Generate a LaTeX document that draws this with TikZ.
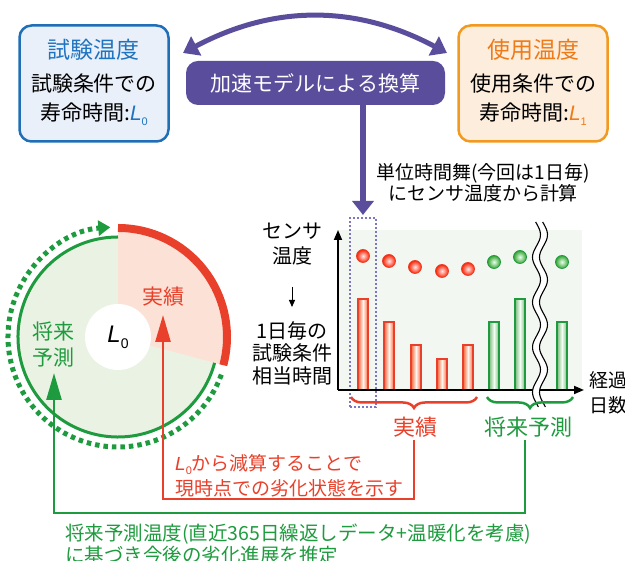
\documentclass[tikz,border=0pt]{standalone}
\usepackage{fontspec}
\setmainfont{Noto Sans CJK JP}
\newfontfamily\lat{Liberation Sans}
\usetikzlibrary{arrows.meta,decorations.pathreplacing}
\definecolor{cblue}{HTML}{1F6EB7}
\definecolor{cbluet}{HTML}{1E74C0}
\definecolor{cbluefill}{HTML}{EAF0FA}
\definecolor{corange}{HTML}{F29A20}
\definecolor{ctorange}{HTML}{EE7A18}
\definecolor{corangefill}{HTML}{FDEDDC}
\definecolor{cpurple}{HTML}{5A4E9C}
\definecolor{cred}{HTML}{E8402A}
\definecolor{cgreen}{HTML}{1E9B3E}
\definecolor{cpink}{HTML}{FCE2D6}
\definecolor{cgfill}{HTML}{EAF3E3}
\definecolor{cbg}{HTML}{F2F7F2}
\definecolor{cdot}{HTML}{7D76C2}
\newcommand{\Lsub}[2]{{\lat\textit{L}}\raisebox{-0.25em}{\fontsize{#2}{#2}\selectfont\lat #1}}
\begin{document}
\begin{tikzpicture}[x=1pt,y=1pt,
  tbox/.style={rectangle, rounded corners=12pt, line width=2.5pt, minimum width=149pt, minimum height=116pt, inner sep=0pt},
  ttl/.style={font=\fontsize{23}{23}\selectfont, inner sep=0pt},
  body/.style={font=\fontsize{21}{29}\selectfont, align=center, inner sep=0pt},
  pbox/.style={rectangle, rounded corners=12pt, fill=cpurple, text=white, minimum width=259pt, minimum height=44pt, inner sep=0pt, font=\fontsize{21}{21}\selectfont},
  parrow/.style={draw=cpurple, line width=5pt, {Triangle[length=15pt,width=21pt]}-{Triangle[length=15pt,width=21pt]}},
  varrow/.style={draw=cpurple, line width=6.5pt, -{Triangle[length=14pt,width=21pt]}},
  lbl/.style={font=\fontsize{19}{21}\selectfont, align=center, inner sep=0pt},
  axis/.style={line width=1.8pt, -{Triangle[length=10pt,width=8pt]}},
  rbar/.style={draw=cred, line width=1.2pt, left color=red!55!orange!80, right color=red!55!orange!80, middle color=orange!5},
  gbar/.style={draw=cgreen, line width=1.2pt, left color=green!45!black!50, right color=green!45!black!50, middle color=green!5},
  rball/.style={draw=cred, line width=0.8pt, inner color=red!8, outer color=red!75!orange},
  gball/.style={draw=cgreen, line width=0.8pt, inner color=green!8, outer color=green!55!black!80},
  brc/.style={decorate, decoration={brace, mirror, amplitude=11pt}, line width=2.5pt},
  conn/.style={line width=2.7pt, -{Triangle[length=27pt,width=15pt]}},
  big/.style={font=\fontsize{22}{22}\selectfont, inner sep=0pt}
]
\useasboundingbox (0,0) rectangle (625,561);

% ---- top boxes ----
\node[tbox, draw=cblue, fill=cbluefill] (test) at (94,477.5) {};
\node[ttl, text=cbluet] (testt) at (94,511) {試験温度};
\node[body] (testb) at (94,461.5) {試験条件での\\寿命時間:{\color{cbluet}\Lsub{0}{11}}};

\node[tbox, draw=corange, fill=corangefill] (use) at (533,477.5) {};
\node[ttl, text=ctorange] (uset) at (533,511) {使用温度};
\node[body] (useb) at (533,461.5) {使用条件での\\寿命時間:{\color{ctorange}\Lsub{1}{11}}};

\node[pbox] (acc) at (315.5,478) {加速モデルによる換算};
\coordinate (la) at (183,508);
\coordinate (ra) at (447,508);
\draw[parrow] (la) to[bend left=28] (ra);
\coordinate (vtip) at (363,346);
\draw[varrow] (acc.south -| vtip) -- (vtip);

\node[lbl] (unit) at (483,378.5) {単位時間舞(今回は1日毎)\\にセンサ温度から計算};

% ---- chart ----
\fill[cbg] (338,171) rectangle (582,331);
\draw[cdot, line width=1.3pt, dash pattern=on 2pt off 2pt] (350,154) rectangle (376,343);
\foreach \xc/\yt in {363/262, 389/239, 416/216, 442/202, 468/216}
  \draw[rbar] (\xc-5,171) rectangle (\xc+5,\yt);
\foreach \xc/\yt in {494/239, 520/262, 562/239}
  \draw[gbar] (\xc-5,171) rectangle (\xc+5,\yt);
\foreach \xc/\yc in {363/305, 389/300, 415/294, 442/290, 468/292}
  \draw[rball] (\xc,\yc) circle[radius=6.5];
\foreach \xc/\yc in {494/299, 520/304, 562/299}
  \draw[gball] (\xc,\yc) circle[radius=6.5];
\coordinate (O) at (338,171);
\coordinate (ytip) at (338,331);
\coordinate (xtip) at (584,171);
\draw[axis] (O) -- (ytip);
\draw[axis] (O) -- (xtip);
% break
\fill[white] plot[domain=154:339, samples=80, variable=\t] ({536.5+4*sin(8*\t)},{\t}) --
  plot[domain=339:154, samples=80, variable=\t] ({543.5+4*sin(8*\t)},{\t}) -- cycle;
\draw[line width=1.1pt] plot[domain=154:339, samples=80, variable=\t] ({536.5+4*sin(8*\t)},{\t});
\draw[line width=1.1pt] plot[domain=154:339, samples=80, variable=\t] ({543.5+4*sin(8*\t)},{\t});

\draw[brc, cred] (351,164) -- (477,164);
\draw[brc, cgreen] (487,164) -- (573,164);
\node[big, text=cred] (jr) at (415,134) {実績};
\node[big, text=cgreen] (jf) at (528,134) {将来予測};

\node[font=\fontsize{20}{25}\selectfont, align=center, inner sep=0pt] (sens) at (292,316.5) {センサ\\温度};
\coordinate (da) at (292,274);
\coordinate (db) at (292,254);
\draw[line width=1pt, -{Triangle[length=7pt,width=6pt]}] (da) -- (db);
\node[font=\fontsize{20}{22.5}\selectfont, align=center, inner sep=0pt] (equiv) at (292,208) {1日毎の\\試験条件\\相当時間};
\node[font=\fontsize{19}{25}\selectfont, align=left, anchor=west, inner sep=0pt] (days) at (589,168.5) {経過\\日数};

% ---- circle ----
\coordinate (C) at (118,224);
\fill[cgfill] (C) circle[radius=100];
\fill[cpink] (C) -- ([shift={(-15:105)}]C) arc[start angle=-15,end angle=90,radius=105] -- cycle;
\draw[cgreen, line width=3pt] ([shift={(-15:100)}]C) arc[start angle=-15,end angle=-270,radius=100];
\draw[cred, line width=8pt] ([shift={(90:109)}]C) arc[start angle=90,end angle=-15,radius=109];
\draw[cgreen, line width=5pt, dash pattern=on 4.5pt off 4pt, -{Triangle[length=12pt,width=15pt]}] ([shift={(-20:110)}]C) arc[start angle=-20,end angle=-266,radius=110];
\node[circle, fill=white, minimum size=66pt, inner sep=0pt] (core) at (C) {};
\node[font=\fontsize{24}{24}\selectfont, inner sep=0pt] (corel) at (C) {\Lsub{0}{14}};
\node[font=\fontsize{21}{21}\selectfont, text=cred, inner sep=0pt] (cj) at (163,264) {実績};
\node[font=\fontsize{21}{26}\selectfont, align=center, text=cgreen, inner sep=0pt] (cf) at (53,216) {将来\\予測};

% ---- connectors ----
\coordinate (rs) at (414,121);
\coordinate (rc) at (163,62);
\coordinate (rt) at (163,246);
\draw[conn, cred] (rs) |- (rc) -- (rt);
\coordinate (gs) at (525,121);
\coordinate (gc) at (54,48);
\coordinate (gt) at (54,188);
\draw[conn, cgreen] (gs) |- (gc) -- (gt);

\node[font=\fontsize{19}{25}\selectfont, align=left, anchor=west, text=cred, inner sep=0pt] (rtext) at (175,85.5) {\Lsub{0}{11}から減算することで\\現時点での劣化状態を示す};
\node[font=\fontsize{19.5}{22}\selectfont, align=left, anchor=west, text=cgreen, inner sep=0pt] (gtext) at (65,17) {将来予測温度(直近365日繰返しデータ+温暖化を考慮)\\に基づき今後の劣化進展を推定};
\end{tikzpicture}
\end{document}
